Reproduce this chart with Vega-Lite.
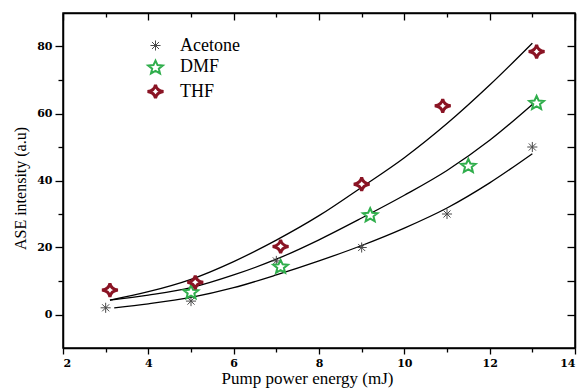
{
  "$schema": "https://vega.github.io/schema/vega-lite/v6.json",
  "width": 512,
  "height": 335,
  "autosize": "none",
  "padding": {"left": 63, "top": 13, "right": 8, "bottom": 44},
  "background": "white",
  "config": {
    "font": "Liberation Serif",
    "view": {"stroke": "black", "strokeWidth": 1.5},
    "axis": {
      "grid": false,
      "domainColor": "black",
      "domainWidth": 1.5,
      "tickColor": "black",
      "tickWidth": 1.3,
      "labelColor": "black",
      "labelFont": "DejaVu Serif",
      "labelFontSize": 11,
      "labelFontWeight": "bold",
      "titleColor": "black",
      "titleFont": "Liberation Serif",
      "titleFontSize": 16,
      "titleFontWeight": "normal"
    }
  },
  "datasets": {
    "fits": [
      {"energy": 3.2, "intensity": 2.0, "solvent": "Acetone"},
      {"energy": 4, "intensity": 3.2, "solvent": "Acetone"},
      {"energy": 5, "intensity": 5.1, "solvent": "Acetone"},
      {"energy": 6, "intensity": 8.0, "solvent": "Acetone"},
      {"energy": 7, "intensity": 11.8, "solvent": "Acetone"},
      {"energy": 8, "intensity": 16.0, "solvent": "Acetone"},
      {"energy": 9, "intensity": 20.6, "solvent": "Acetone"},
      {"energy": 10, "intensity": 25.8, "solvent": "Acetone"},
      {"energy": 11, "intensity": 31.8, "solvent": "Acetone"},
      {"energy": 12, "intensity": 39.3, "solvent": "Acetone"},
      {"energy": 13, "intensity": 48.0, "solvent": "Acetone"},
      {"energy": 3.1, "intensity": 4.3, "solvent": "DMF"},
      {"energy": 4, "intensity": 5.8, "solvent": "DMF"},
      {"energy": 5, "intensity": 8.0, "solvent": "DMF"},
      {"energy": 6, "intensity": 11.8, "solvent": "DMF"},
      {"energy": 7, "intensity": 16.5, "solvent": "DMF"},
      {"energy": 8, "intensity": 22.3, "solvent": "DMF"},
      {"energy": 9, "intensity": 28.8, "solvent": "DMF"},
      {"energy": 10, "intensity": 35.6, "solvent": "DMF"},
      {"energy": 11, "intensity": 43.0, "solvent": "DMF"},
      {"energy": 12, "intensity": 52.0, "solvent": "DMF"},
      {"energy": 13, "intensity": 62.7, "solvent": "DMF"},
      {"energy": 3.1, "intensity": 4.3, "solvent": "THF"},
      {"energy": 4, "intensity": 6.8, "solvent": "THF"},
      {"energy": 5, "intensity": 10.5, "solvent": "THF"},
      {"energy": 6, "intensity": 15.8, "solvent": "THF"},
      {"energy": 7, "intensity": 22.2, "solvent": "THF"},
      {"energy": 8, "intensity": 29.5, "solvent": "THF"},
      {"energy": 9, "intensity": 38.0, "solvent": "THF"},
      {"energy": 10, "intensity": 46.8, "solvent": "THF"},
      {"energy": 11, "intensity": 57.0, "solvent": "THF"},
      {"energy": 12, "intensity": 68.5, "solvent": "THF"},
      {"energy": 13, "intensity": 81.0, "solvent": "THF"}
    ],
    "measured": [
      {"energy": 3, "intensity": 2, "solvent": "Acetone"},
      {"energy": 5, "intensity": 4, "solvent": "Acetone"},
      {"energy": 7, "intensity": 16, "solvent": "Acetone"},
      {"energy": 9, "intensity": 20, "solvent": "Acetone"},
      {"energy": 11, "intensity": 30, "solvent": "Acetone"},
      {"energy": 13, "intensity": 50, "solvent": "Acetone"},
      {"energy": 5, "intensity": 6.8, "solvent": "DMF"},
      {"energy": 7.1, "intensity": 14.4, "solvent": "DMF"},
      {"energy": 9.2, "intensity": 29.8, "solvent": "DMF"},
      {"energy": 11.5, "intensity": 44.5, "solvent": "DMF"},
      {"energy": 13.1, "intensity": 63.3, "solvent": "DMF"},
      {"energy": 3.1, "intensity": 7.3, "solvent": "THF"},
      {"energy": 5.1, "intensity": 9.6, "solvent": "THF"},
      {"energy": 7.1, "intensity": 20.3, "solvent": "THF"},
      {"energy": 9, "intensity": 38.9, "solvent": "THF"},
      {"energy": 10.9, "intensity": 62.3, "solvent": "THF"},
      {"energy": 13.1, "intensity": 78.5, "solvent": "THF"}
    ]
  },
  "layer": [
    {
      "data": {"name": "fits"},
      "mark": {"type": "line", "color": "black", "strokeWidth": 1.3, "interpolate": "monotone"},
      "encoding": {
        "x": {
          "field": "energy", "type": "quantitative",
          "scale": {"domain": [2, 14], "nice": false, "zero": false},
          "axis": {
            "orient": "bottom",
            "title": "Pump power energy (mJ)",
            "titleFontSize": 17,
            "titleX": 244,
            "values": [2, 3, 4, 5, 6, 7, 8, 9, 10, 11, 12, 13, 14],
            "labelExpr": "datum.value % 2 === 0 ? datum.label : ''",
            "tickSize": {"condition": {"test": "datum.value % 2 === 0", "value": 6}, "value": 4},
            "labelPadding": 3,
            "titlePadding": 2
          }
        },
        "y": {
          "field": "intensity", "type": "quantitative",
          "scale": {"domain": [-10, 90], "nice": false, "zero": false},
          "axis": {
            "orient": "left",
            "title": "ASE intensity (a.u)",
            "titleY": 175,
            "values": [0, 10, 20, 30, 40, 50, 60, 70, 80],
            "labelExpr": "datum.value % 20 === 0 ? datum.label : ''",
            "tickSize": {"condition": {"test": "datum.value % 20 === 0", "value": 8}, "value": 5},
            "labelPadding": 3,
            "titlePadding": 8
          }
        },
        "detail": {"field": "solvent"}
      }
    },
    {
      "data": {"name": "measured"},
      "mark": {"type": "point", "filled": false, "fill": "white", "size": 460, "opacity": 1},
      "encoding": {
        "x": {
          "field": "energy", "type": "quantitative",
          "axis": {
            "orient": "top",
            "title": null,
            "values": [2, 3, 4, 5, 6, 7, 8, 9, 10, 11, 12, 13, 14],
            "labels": false,
            "tickSize": {"condition": {"test": "datum.value % 2 === 0", "value": -7}, "value": -4}
          }
        },
        "y": {
          "field": "intensity", "type": "quantitative",
          "axis": {
            "orient": "right",
            "title": null,
            "values": [0, 10, 20, 30, 40, 50, 60, 70, 80],
            "labels": false,
            "tickSize": -8
          }
        },
        "color": {
          "field": "solvent", "type": "nominal",
          "scale": {"domain": ["Acetone", "DMF", "THF"], "range": ["#4a4a4a", "#30ae4c", "#8a1424"]},
          "legend": {
            "title": null,
            "orient": "none",
            "legendX": 80,
            "legendY": 21,
            "padding": 0,
            "rowPadding": 0,
            "symbolSize": 460,
            "labelFont": "Liberation Serif",
            "labelFontSize": 18,
            "labelColor": "black",
            "labelOffset": 12,
            "labelExpr": "datum.value === 'Acetone' ? datum.label : '\u00a0' + datum.label"
          }
        },
        "shape": {
          "field": "solvent", "type": "nominal",
          "scale": {
            "domain": ["Acetone", "DMF", "THF"],
            "range": [
              "M0,-0.47L0,0.47M-0.47,0L0.47,0M-0.33,-0.33L0.33,0.33M-0.33,0.33L0.33,-0.33",
              "M0,-0.6L0.19,-0.18L0.68,-0.14L0.31,0.155L0.42,0.6L0,0.36L-0.42,0.6L-0.31,0.155L-0.68,-0.14L-0.19,-0.18Z",
              "M0,-0.64Q0.09,-0.09 0.74,0Q0.09,0.09 0,0.64Q-0.09,0.09 -0.74,0Q-0.09,-0.09 0,-0.64Z"
            ]
          }
        },
        "strokeWidth": {
          "field": "solvent", "type": "nominal",
          "scale": {"domain": ["Acetone", "DMF", "THF"], "range": [1, 3, 3]}
        }
      }
    }
  ],
  "resolve": {"axis": {"x": "independent", "y": "independent"}}
}
